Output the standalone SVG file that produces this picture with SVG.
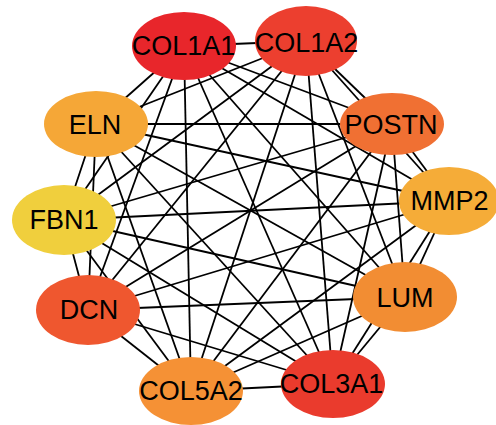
<svg xmlns="http://www.w3.org/2000/svg" width="496" height="425" viewBox="0 0 496 425">
<style>
.e{stroke:#000;stroke-width:1.8;fill:none}
.n text{font-family:"Liberation Sans",Arial,sans-serif;font-size:27px;fill:#000;text-anchor:middle}
</style>
<rect width="496" height="425" fill="#fff"/>
<g id="edges" class="e">
<line x1="184" y1="46" x2="306" y2="41"/>
<line x1="184" y1="46" x2="392" y2="124"/>
<line x1="184" y1="46" x2="449" y2="201"/>
<line x1="184" y1="46" x2="405" y2="297"/>
<line x1="184" y1="46" x2="333" y2="384"/>
<line x1="184" y1="46" x2="191" y2="391"/>
<line x1="184" y1="46" x2="88" y2="310"/>
<line x1="184" y1="46" x2="64" y2="220"/>
<line x1="184" y1="46" x2="96" y2="124"/>
<line x1="306" y1="41" x2="392" y2="124"/>
<line x1="306" y1="41" x2="449" y2="201"/>
<line x1="306" y1="41" x2="405" y2="297"/>
<line x1="306" y1="41" x2="333" y2="384"/>
<line x1="306" y1="41" x2="191" y2="391"/>
<line x1="306" y1="41" x2="88" y2="310"/>
<line x1="306" y1="41" x2="64" y2="220"/>
<line x1="306" y1="41" x2="96" y2="124"/>
<line x1="392" y1="124" x2="449" y2="201"/>
<line x1="392" y1="124" x2="405" y2="297"/>
<line x1="392" y1="124" x2="333" y2="384"/>
<line x1="392" y1="124" x2="191" y2="391"/>
<line x1="392" y1="124" x2="88" y2="310"/>
<line x1="392" y1="124" x2="64" y2="220"/>
<line x1="392" y1="124" x2="96" y2="124"/>
<line x1="449" y1="201" x2="405" y2="297"/>
<line x1="449" y1="201" x2="333" y2="384"/>
<line x1="449" y1="201" x2="191" y2="391"/>
<line x1="449" y1="201" x2="88" y2="310"/>
<line x1="449" y1="201" x2="64" y2="220"/>
<line x1="449" y1="201" x2="96" y2="124"/>
<line x1="405" y1="297" x2="333" y2="384"/>
<line x1="405" y1="297" x2="191" y2="391"/>
<line x1="405" y1="297" x2="88" y2="310"/>
<line x1="405" y1="297" x2="64" y2="220"/>
<line x1="405" y1="297" x2="96" y2="124"/>
<line x1="333" y1="384" x2="191" y2="391"/>
<line x1="333" y1="384" x2="88" y2="310"/>
<line x1="333" y1="384" x2="64" y2="220"/>
<line x1="333" y1="384" x2="96" y2="124"/>
<line x1="191" y1="391" x2="88" y2="310"/>
<line x1="191" y1="391" x2="64" y2="220"/>
<line x1="191" y1="391" x2="96" y2="124"/>
<line x1="88" y1="310" x2="64" y2="220"/>
<line x1="88" y1="310" x2="96" y2="124"/>
<line x1="64" y1="220" x2="96" y2="124"/>
</g>
<g id="COL1A1" class="n"><ellipse cx="184" cy="46" rx="52" ry="34" fill="#E8262B"/><text x="183.5" y="54.5">COL1A1</text></g>
<g id="COL1A2" class="n"><ellipse cx="306" cy="41" rx="51" ry="35" fill="#EC3F2F"/><text x="306.5" y="51.5">COL1A2</text></g>
<g id="POSTN" class="n"><ellipse cx="392" cy="124" rx="52" ry="31" fill="#F07033"/><text x="391" y="133.5">POSTN</text></g>
<g id="MMP2" class="n"><ellipse cx="449" cy="201" rx="50" ry="34" fill="#F5AC38"/><text x="449.5" y="210">MMP2</text></g>
<g id="LUM" class="n"><ellipse cx="405" cy="297" rx="52" ry="35" fill="#F28D33"/><text x="405" y="306.5">LUM</text></g>
<g id="COL3A1" class="n"><ellipse cx="333" cy="384" rx="52" ry="34" fill="#EA3B2D"/><text x="331.5" y="392.5">COL3A1</text></g>
<g id="COL5A2" class="n"><ellipse cx="191" cy="391" rx="52" ry="34" fill="#F59135"/><text x="191" y="399.5">COL5A2</text></g>
<g id="DCN" class="n"><ellipse cx="88" cy="310" rx="52" ry="35" fill="#EF572F"/><text x="89" y="318.5">DCN</text></g>
<g id="FBN1" class="n"><ellipse cx="64" cy="220" rx="52" ry="35" fill="#F0CF3D"/><text x="64" y="228.5">FBN1</text></g>
<g id="ELN" class="n"><ellipse cx="96" cy="124" rx="52" ry="33" fill="#F5A737"/><text x="95" y="134">ELN</text></g>
</svg>
